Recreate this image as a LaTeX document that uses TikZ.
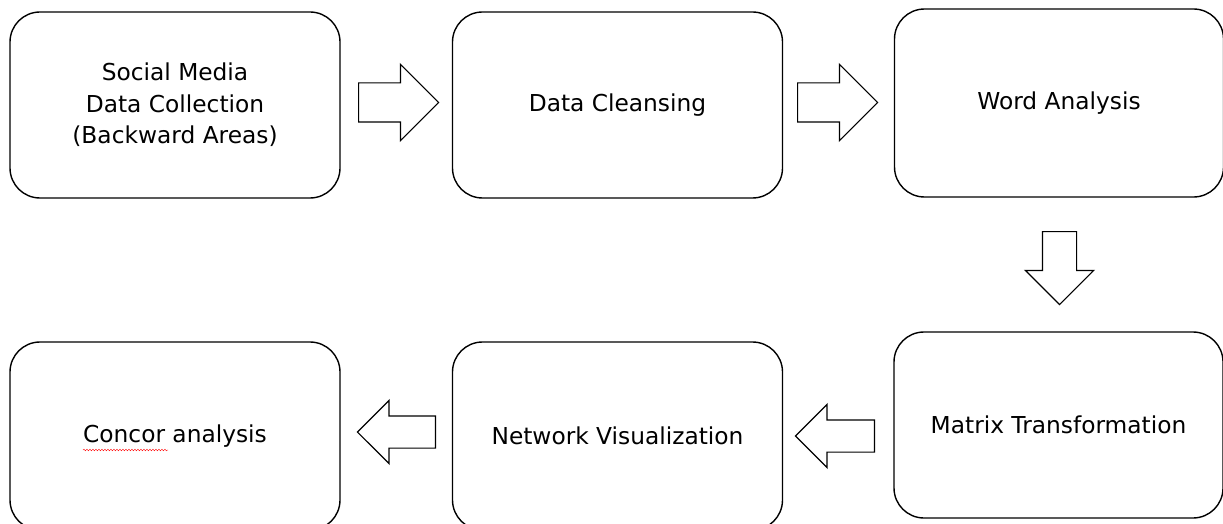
\documentclass[tikz,border=0pt]{standalone}
\usepackage{fontspec}
\setmainfont{DejaVu Sans}
\usetikzlibrary{positioning, shapes.arrows, decorations.pathmorphing}

\begin{document}
\begin{tikzpicture}[x=1pt, y=-1pt,
    stage/.style={draw, line width=1.4pt, rounded corners=30pt, minimum width=330pt,
        minimum height=186pt, align=center, font=\fontsize{23.3}{31.5}\selectfont},
    flow/.style={draw, line width=1.2pt, single arrow, single arrow tip angle=90, inner xsep=0pt, anchor=tail}]
    \useasboundingbox (0,0) rectangle (1223,524);

    % Stages
    \node[stage] (collect) at (175,105) {Social Media\\Data Collection\\(Backward Areas)};
    \node[stage] (cleanse) at (617.5,105) {Data Cleansing};
    \node[stage, minimum width=329pt, minimum height=188pt] (word) at (1059,103) {Word Analysis};
    \node[stage, minimum width=329pt] (matrix) at (1058.5,425) {Matrix Transformation};
    \node[stage, minimum height=188pt] (network) at (617.5,436) {Network Visualization};
    \node[stage, minimum height=188pt] (concor) at (175,436) {Concor analysis};

    % spell check mark
    \draw[red, line width=0.4pt, decorate, decoration={snake, amplitude=0.8pt, segment length=3pt}]
        (83,450) -- (168,450);

    % Block arrows
    \node[flow, minimum height=80pt, inner ysep=19pt, single arrow head extend=18.5pt] (a1) at (358,102.5) {};
    \node[flow, minimum height=80pt, inner ysep=19pt, single arrow head extend=18.5pt] (a2) at (797,102.5) {};
    \node[flow, minimum height=73pt, inner ysep=16.5pt, single arrow head extend=17pt, rotate=-90] (a3) at (1059.5,231) {};
    \node[flow, minimum height=79pt, inner ysep=15.5pt, single arrow head extend=15.5pt, rotate=180] (a4) at (875,436) {};
    \node[flow, minimum height=78pt, inner ysep=15.5pt, single arrow head extend=15.5pt, rotate=180] (a5) at (436,432) {};
\end{tikzpicture}
\end{document}
